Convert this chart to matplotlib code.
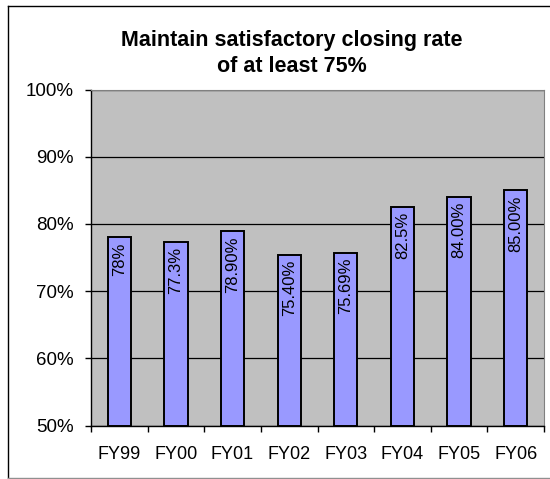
import matplotlib
matplotlib.use('Agg')
import matplotlib.pyplot as plt
from matplotlib.lines import Line2D
from matplotlib.ticker import FixedLocator, FuncFormatter

plt.rcParams['font.family'] = ['Liberation Sans', 'DejaVu Sans']

years = ['FY99', 'FY00', 'FY01', 'FY02', 'FY03', 'FY04', 'FY05', 'FY06']
rates = [78.0, 77.3, 78.9, 75.4, 75.69, 82.5, 84.0, 85.0]
labels = ['78%', '77.3%', '78.90%', '75.40%', '75.69%', '82.5%', '84.00%', '85.00%']
yticks = [50, 60, 70, 80, 90, 100]

W, H = 550, 479
fig = plt.figure(figsize=(W / 100, H / 100), dpi=100)

# chart area border (right edge is cut off in the original)
bx0, by0, by1 = 7.5 / W, 1 - 477.5 / H, 1 - 5.5 / H
fig.add_artist(Line2D([bx0, 1], [by1, by1], color='black', lw=1))
fig.add_artist(Line2D([bx0, bx0], [by0, by1], color='black', lw=1))
fig.add_artist(Line2D([bx0, 1], [by0, by0], color='#909090', lw=1))

ax = fig.add_axes([91 / W, 1 - 425.5 / H, 453 / W, 336 / H])
ax.set_facecolor('#C0C0C0')

xs = list(range(len(years)))
ax.bar(xs, [r - 50 for r in rates], bottom=50, width=0.41,
       color='#9999FF', edgecolor='black', linewidth=1.4, zorder=3)

for x, r, lab in zip(xs, rates, labels):
    ax.annotate(lab, (x, r), xytext=(0, -3.5), textcoords='offset points',
                rotation=90, ha='center', va='top', fontsize=12, zorder=4)

ax.set_xlim(-0.5, len(years) - 0.5)
ax.set_ylim(50, 100)
ax.set_yticks(yticks)
ax.yaxis.set_major_formatter(FuncFormatter(lambda v, p: '%d%%' % v))
ax.yaxis.grid(True, color='black', linewidth=0.9, zorder=0)
ax.set_axisbelow(True)

ax.set_xticks(xs)
ax.set_xticklabels(years)
ax.xaxis.set_minor_locator(FixedLocator([i + 0.5 for i in range(-1, len(years))]))
ax.tick_params(axis='x', which='major', length=0, pad=15, labelsize=13)
ax.tick_params(axis='x', which='minor', length=4.5, width=1)
ax.tick_params(axis='y', length=4.5, width=1, pad=8, labelsize=13.5)

for side in ['top', 'right']:
    ax.spines[side].set_color('#808080')
for side in ['left', 'bottom']:
    ax.spines[side].set_color('black')
    ax.spines[side].set_linewidth(1)

fig.text(292 / W, 1 - 71.7 / H, 'Maintain satisfactory closing rate\nof at least 75%',
         ha='center', va='baseline', fontsize=15.5, fontweight='bold',
         linespacing=1.3)

fig.savefig('out.png', dpi=100)
